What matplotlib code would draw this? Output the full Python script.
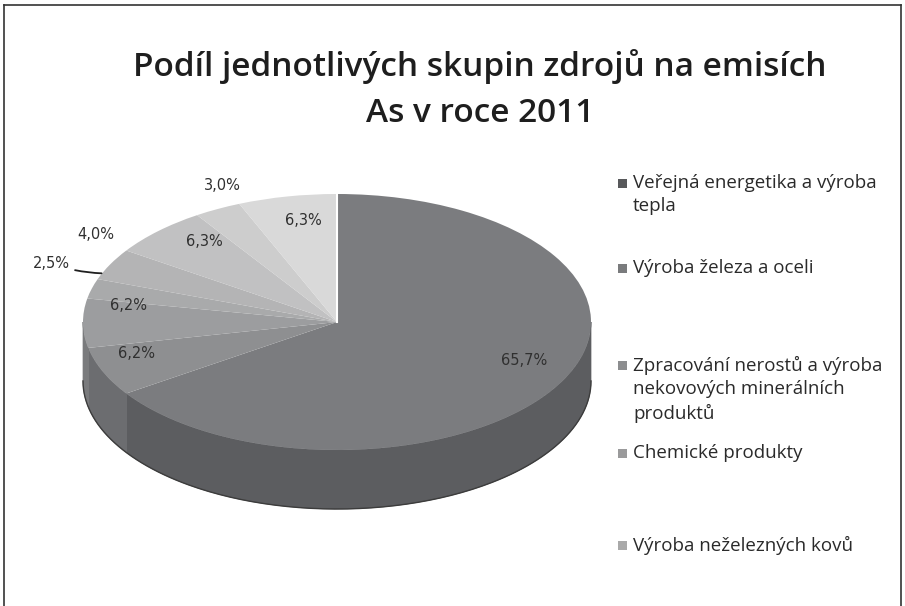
import numpy as np
import matplotlib
matplotlib.use("Agg")
import matplotlib.pyplot as plt
from matplotlib.patches import Polygon, Rectangle
from matplotlib.lines import Line2D

# Shares of emission sources (percent)
shares = [65.7, 6.2, 6.2, 2.5, 4.0, 6.3, 3.0, 6.3]
share_labels = ["65,7%", "6,2%", "6,2%", "2,5%", "4,0%", "6,3%", "3,0%", "6,3%"]
legend_labels = [
    "Veřejná energetika a výroba\ntepla",
    "Výroba železa a oceli",
    "Zpracování nerostů a výroba\nnekovových minerálních\nproduktů",
    "Chemické produkty",
    "Výroba neželezných kovů",
]
title_lines = ["Podíl jednotlivých skupin zdrojů na emisích", "As v roce 2011"]

top_colors = ["#7b7c7f", "#8e8f91", "#9c9d9f", "#a9aaab", "#b4b4b5",
              "#c1c1c2", "#cdcdcd", "#d9d9d9"]
side_colors = ["#5c5d60", "#6c6d70", "#7a7b7d", "#87888a", "#929293",
               "#9e9e9f", "#aaaaaa", "#b5b5b5"]
legend_colors = ["#58595b", "#7a7b7d", "#8c8d8f", "#9a9a9b", "#a9a9a9"]

W, H = 905, 606
fig = plt.figure(figsize=(W / 100, H / 100), dpi=100)
fig.patch.set_facecolor("white")

# pie axes: one x unit = 254 px, one y unit = 128 px (tilted ellipse)
cx, cy = 337, 322
ax_px, ay_px = 254, 128
xr, yr = 1.3, 1.6
ax = fig.add_axes([(cx - xr * ax_px) / W, (H - cy - yr * ay_px) / H,
                   2 * xr * ax_px / W, 2 * yr * ay_px / H])
ax.set_xlim(-xr, xr)
ax.set_ylim(-yr, yr)
ax.axis("off")

depth = 59 / ay_px
vals = np.array(shares, dtype=float)
frac = vals / vals.sum()
edges = 90 - 360 * np.concatenate([[0], np.cumsum(frac)])

# side walls of the front half
for i in range(len(vals)):
    t_hi, t_lo = edges[i], edges[i + 1]
    for k in (-360, 0):
        lo = max(t_lo, 180 + k)
        hi = min(t_hi, 360 + k)
        if hi > lo:
            t = np.radians(np.linspace(lo, hi, 80))
            xs = np.cos(t)
            ys = np.sin(t)
            pts = np.concatenate([np.column_stack([xs, ys]),
                                  np.column_stack([xs[::-1], ys[::-1] - depth])])
            ax.add_patch(Polygon(pts, closed=True, facecolor=side_colors[i],
                                 edgecolor=side_colors[i], lw=0.5, zorder=1))

# bottom rim outline
tb = np.radians(np.linspace(180, 360, 200))
ax.plot(np.cos(tb), np.sin(tb) - depth, color="#3c3c3c", lw=1.0, zorder=2)

wedges, _ = ax.pie(vals, colors=top_colors, startangle=90, counterclock=False,
                   radius=1, wedgeprops=dict(linewidth=0))
ax.set_aspect("auto")
ax.set_xlim(-xr, xr)
ax.set_ylim(-yr, yr)
for w in wedges:
    w.set_zorder(3)

# white separator at the start angle
ax.plot([0, np.cos(np.radians(edges[0]))], [0, np.sin(np.radians(edges[0]))],
        color="white", lw=1.5, zorder=4)

# percentage labels
label_r = [0.80, 0.83, 0.83, 1.00, 1.17, 0.82, 1.16, 0.79]
label_off = [(8, 10), (-6, 10), (2, 17), (-32, 10), (24, 20), (14, 6), (24, 5), (6, 2)]
for i, txt in enumerate(share_labels):
    mid = np.radians((edges[i] + edges[i + 1]) / 2)
    px, py = label_r[i] * np.cos(mid), label_r[i] * np.sin(mid)
    if txt == "2,5%":
        ax.annotate(txt, xy=(0.96 * px, py + 0.12), xytext=label_off[i],
                    textcoords="offset pixels", ha="right", va="center",
                    fontsize=10.5, color="#303030", family="DejaVu Sans",
                    arrowprops=dict(arrowstyle="-", color="#202020", lw=1.3,
                                    connectionstyle="arc3,rad=0.08",
                                    shrinkA=2, shrinkB=0), zorder=5)
    else:
        ax.annotate(txt, xy=(px, py), xytext=label_off[i],
                    textcoords="offset pixels", ha="center", va="center",
                    fontsize=10.5, color="#303030", family="DejaVu Sans", zorder=5)

# title, two centred lines
for line, base in zip(title_lines, [76, 122]):
    fig.text(480 / W, 1 - base / H, line, ha="center", va="baseline",
             fontsize=24, family="Open Sans", fontweight="semibold",
             color="#1e1e1e")

# legend
leg_rows = [183, 268, 365, 453, 545]
for i, (lab, y) in enumerate(zip(legend_labels, leg_rows)):
    fig.patches.append(Rectangle((618 / W, 1 - (y + 5) / H), 9 / W, 9 / H,
                                 transform=fig.transFigure,
                                 facecolor=legend_colors[i], edgecolor="none"))
    fig.text(633 / W, 1 - (y - 9) / H, lab, ha="left", va="top", fontsize=13.5,
             family="Open Sans", color="#2a2a2a", linespacing=1.36)

# outer frame
for xs_, ys_ in [([4, 4], [5, H]), ([4, 901], [5, 5]), ([901, 901], [5, H])]:
    fig.add_artist(Line2D([x / W for x in xs_], [1 - y / H for y in ys_],
                          transform=fig.transFigure, color="#333333", lw=1.2))

fig.savefig("out.png", dpi=100)
